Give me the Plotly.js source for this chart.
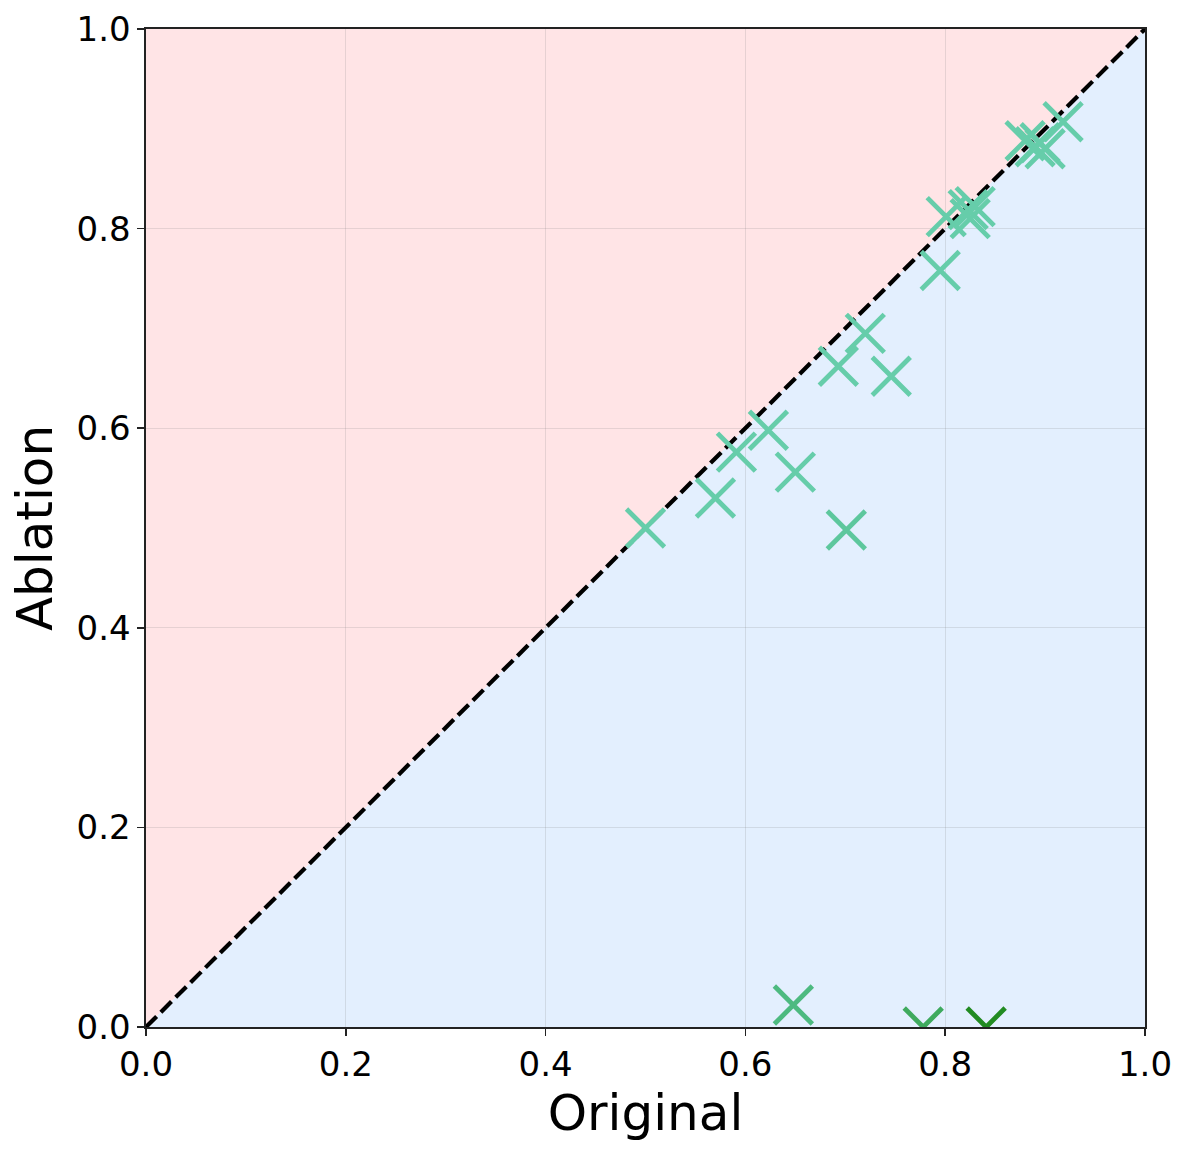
<!DOCTYPE html>
<html>
<head>
<meta charset="utf-8">
<script src="https://cdn.plot.ly/plotly-3.0.1.min.js"></script>
<style>html,body{margin:0;padding:0;background:#fff;}#chart{width:1189px;height:1150px;}</style>
</head>
<body>
<div id="chart"></div>
<script>
// Data
const originalVals = [0.500, 0.570, 0.591, 0.623, 0.650, 0.701, 0.693, 0.720, 0.746,
                      0.795, 0.801, 0.823, 0.830, 0.825, 0.880, 0.890, 0.900, 0.895, 0.918,
                      0.648, 0.778, 0.841];
const ablationVals = [0.500, 0.530, 0.576, 0.598, 0.556, 0.498, 0.662, 0.695, 0.652,
                      0.758, 0.812, 0.819, 0.822, 0.810, 0.888, 0.882, 0.880, 0.886, 0.907,
                      0.022, 0.000, 0.000];
const pointColors = ['#66CDAA','#66CDAA','#66CDAA','#66CDAA','#66CDAA','#5DC79D','#66CDAA','#66CDAA','#66CDAA',
                     '#66CDAA','#66CDAA','#66CDAA','#66CDAA','#66CDAA','#66CDAA','#66CDAA','#66CDAA','#66CDAA','#66CDAA',
                     '#4DBA80','#3FAA5E','#228B22'];
const diagX = [0, 1];
const diagY = [0, 1];
const upperRegionX = [0, 0, 1];
const upperRegionY = [0, 1, 1];
const lowerRegionX = [0, 1, 1];
const lowerRegionY = [0, 0, 1];
const tickVals = [0, 0.2, 0.4, 0.6, 0.8, 1.0];
const tickText = ['0.0', '0.2', '0.4', '0.6', '0.8', '1.0'];

function pathFrom(xs, ys) {
  return xs.map((x, i) => (i === 0 ? 'M' : 'L') + x + ',' + ys[i]).join(' ') + ' Z';
}

const traces = [
  {
    x: diagX, y: diagY, mode: 'lines', type: 'scatter',
    line: {color: '#000000', width: 4.2, dash: '15px,6px'},
    hoverinfo: 'skip', showlegend: false, cliponaxis: true
  },
  {
    x: originalVals, y: ablationVals, mode: 'markers', type: 'scatter',
    marker: {symbol: 'x-thin', size: 38, color: pointColors,
             line: {color: pointColors, width: 4.8}},
    showlegend: false, cliponaxis: true
  }
];

const axisCommon = {
  range: [0, 1], tickvals: tickVals, ticktext: tickText,
  showgrid: true, gridcolor: 'rgba(128,128,128,0.2)', gridwidth: 1.2,
  zeroline: false, showline: true, linecolor: '#222222', linewidth: 1.6, mirror: true,
  ticks: 'outside', ticklen: 7, tickwidth: 1.6, tickcolor: '#222222',
  tickfont: {family: 'DejaVu Sans', size: 34, color: '#000000'},
  fixedrange: true
};

const layout = {
  width: 1189, height: 1150,
  margin: {l: 146, r: 44, t: 29, b: 123},
  paper_bgcolor: '#ffffff', plot_bgcolor: '#ffffff',
  showlegend: false,
  xaxis: Object.assign({}, axisCommon, {
    title: {text: 'Original', font: {family: 'DejaVu Sans', size: 50, color: '#000000'}, standoff: 6}
  }),
  yaxis: Object.assign({}, axisCommon, {
    title: {text: 'Ablation', font: {family: 'DejaVu Sans', size: 50, color: '#000000'}, standoff: 8}
  }),
  shapes: [
    {type: 'path', xref: 'x', yref: 'y', path: pathFrom(upperRegionX, upperRegionY),
     fillcolor: '#FFE4E6', line: {width: 0}, layer: 'below'},
    {type: 'path', xref: 'x', yref: 'y', path: pathFrom(lowerRegionX, lowerRegionY),
     fillcolor: '#E3EFFE', line: {width: 0}, layer: 'below'}
  ]
};

Plotly.newPlot('chart', traces, layout, {displayModeBar: false, staticPlot: true});
</script>
</body>
</html>
